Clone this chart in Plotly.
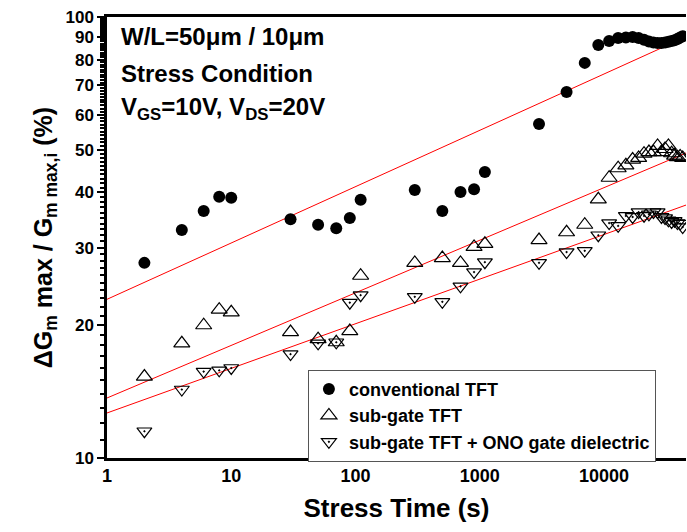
import plotly.graph_objects as go

# ---- data ----
t_conv = [2, 4, 6, 8, 10, 30, 50, 70, 90, 110, 300, 500, 700, 900, 1100, 3000, 5000, 7000,
          9000, 11000, 13000, 15000, 17000, 19000, 21000, 23000, 25000, 27000, 29000, 31000,
          33000, 35000, 37000, 39000, 41000, 43000]
g_conv = [27.7, 32.9, 36.3, 39.1, 38.9, 34.8, 33.8, 33.2, 35.0, 38.5, 40.5, 36.3, 40.1, 40.7,
          44.5, 57.2, 67.6, 78.7, 86.4, 88.2, 89.6, 89.8, 90.1, 89.6, 88.8, 88.0, 87.5, 87.3,
          87.3, 87.5, 87.9, 88.2, 88.6, 89.2, 89.8, 90.4]

t_sub = t_conv
g_sub = [15.3, 18.2, 20.0, 21.7, 21.4, 19.3, 18.6, 18.3, 19.4, 25.9, 27.7, 28.4, 27.7, 30.1,
         30.6, 31.2, 32.5, 33.8, 38.6, 43.2, 45.4, 46.1, 47.5, 47.9, 49.0, 49.4, 49.4, 51.0,
         49.4, 50.2, 51.0, 49.1, 48.5, 48.1, 48.3, 47.9]

t_ono = t_conv
g_ono = [11.5, 14.3, 15.7, 15.8, 16.0, 17.2, 18.2, 18.3, 22.5, 23.4, 23.2, 22.6, 24.5, 26.4,
         27.8, 27.7, 29.3, 29.5, 32.0, 34.1, 33.6, 35.4, 35.2, 36.1, 35.4, 35.7, 36.1, 36.1,
         35.2, 35.0, 34.6, 34.3, 34.5, 34.1, 34.0, 33.4]

# fitted lines (end points)
fit_t = [1, 50000]
fit_conv = [22.9, 91.2]
fit_sub = [13.68, 49.7]
fit_ono = [12.65, 37.8]

x_tickvals = [1, 10, 100, 1000, 10000]
x_ticktext = ["1", "10", "100", "1000", "10000"]
y_tickvals = [10, 20, 30, 40, 50, 60, 70, 80, 90, 100]
y_ticktext = ["10", "20", "30", "40", "50", "60", "70", "80", "90", "100"]
y_minor = [v for v in range(11, 100) if v % 10 != 0]

FONT = "Liberation Sans, Arial, sans-serif"

fig = go.Figure()
for yy in (fit_conv, fit_sub, fit_ono):
    fig.add_trace(go.Scatter(x=fit_t, y=yy, mode="lines", line=dict(color="red", width=1),
                             showlegend=False, hoverinfo="skip"))

fig.add_trace(go.Scatter(x=t_conv, y=g_conv, mode="markers", name="conventional TFT",
                         marker=dict(symbol="circle", size=12, color="black",
                                     line=dict(width=0))))
fig.add_trace(go.Scatter(x=t_sub, y=g_sub, mode="markers", name="sub-gate TFT",
                         marker=dict(symbol="triangle-up-open", size=14, color="black",
                                     line=dict(width=1.2))))
fig.add_trace(go.Scatter(x=t_ono, y=g_ono, mode="markers", name="sub-gate TFT + ONO gate dielectric",
                         marker=dict(symbol="triangle-down-open-dot", size=13, color="black",
                                     line=dict(width=1.2))))

ann_font = dict(family=FONT, size=24, color="black", weight="bold")
fig.add_annotation(x=0.021, y=0.99, xref="paper", yref="paper", xanchor="left", yanchor="top",
                   text="W/L=50\u03bcm / 10\u03bcm", showarrow=False, font=ann_font)
fig.add_annotation(x=0.021, y=0.908, xref="paper", yref="paper", xanchor="left", yanchor="top",
                   text="Stress Condition", showarrow=False, font=ann_font)
fig.add_annotation(x=0.021, y=0.833, xref="paper", yref="paper", xanchor="left", yanchor="top",
                   text="V<sub>GS</sub>=10V, V<sub>DS</sub>=20V", showarrow=False, font=ann_font)

fig.update_layout(
    width=687, height=532,
    margin=dict(l=107, r=1, t=17, b=74),
    paper_bgcolor="white", plot_bgcolor="white",
    font=dict(family=FONT, color="black"),
    legend=dict(x=0.347, y=0.2, xanchor="left", yanchor="top",
                bordercolor="#555555", borderwidth=1, bgcolor="white",
                font=dict(family=FONT, size=18, weight="bold"),
                itemwidth=30, tracegroupgap=0),
    xaxis=dict(type="log", range=[0, 4.66], tickmode="array", tickvals=x_tickvals,
               ticktext=x_ticktext, showgrid=False, zeroline=False, automargin=False,
               showline=True, linecolor="black", linewidth=2.5, mirror=True, ticks="",
               tickfont=dict(family=FONT, size=18, weight="bold"),
               title=dict(text="Stress Time (s)", standoff=14,
                          font=dict(family=FONT, size=26, weight="bold"))),
    yaxis=dict(type="log", range=[1, 2], tickmode="array", tickvals=y_tickvals,
               ticktext=y_ticktext, showgrid=False, zeroline=False, automargin=False,
               showline=True, linecolor="black", linewidth=2.5,
               ticks="outside", ticklen=7, tickwidth=2, tickcolor="black",
               minor=dict(tickmode="array", tickvals=y_minor, ticks="outside", ticklen=4,
                          tickwidth=1.5, tickcolor="black", showgrid=False),
               tickfont=dict(family=FONT, size=17, weight="bold"),
               title=dict(text="\u0394G<sub>m</sub> max / G<sub>m max,i</sub> (%)", standoff=6,
                          font=dict(family=FONT, size=25, weight="bold"))),
)

fig.write_html("out.html", config={"displayModeBar": False},
               post_script="document.body.style.margin='0px';")
